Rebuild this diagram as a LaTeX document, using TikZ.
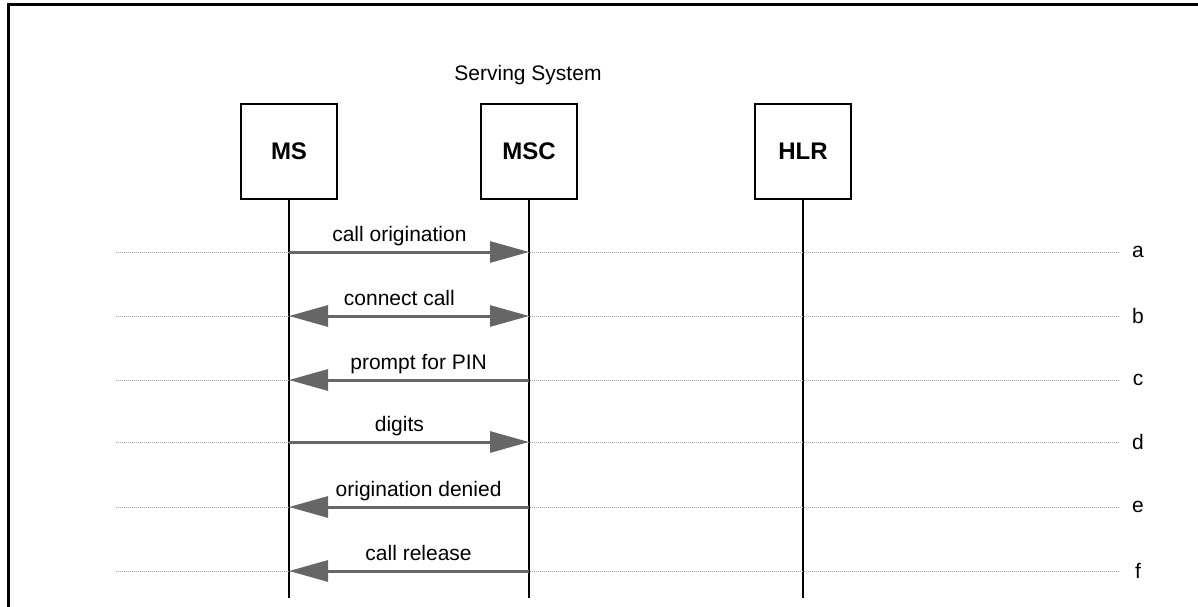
\documentclass[tikz,border=0pt]{standalone}
\usepackage{fontspec}
\setmainfont{Liberation Sans}
\usetikzlibrary{positioning}
\usetikzlibrary{arrows.meta}

\begin{document}
\begin{tikzpicture}[
    x=1pt, y=-1pt,
    every node/.style={font=\fontsize{21}{25}\selectfont},
    entity/.style={draw, line width=2pt, minimum width=96pt, minimum height=95pt,
      font=\fontsize{24}{28}\selectfont\bfseries},
    lifeline/.style={line width=2.6pt},
    gridline/.style={densely dotted, line width=1pt, gray!75},
    msg/.style={line width=3pt, color=black!60, -{Triangle[length=39pt, width=21pt]}},
    msgboth/.style={msg, {Triangle[length=39pt, width=21pt]}-{Triangle[length=39pt, width=21pt]}},
    msglabel/.style={pos=0.46, anchor=base, yshift=11pt, text=black}
  ]
  \useasboundingbox (0,0) rectangle (1198,607);
  \draw[line width=3pt] (1198,4.5) -- (8.5,4.5) -- (8.5,607);

  \node (SS) [anchor=base] at (528,81) {Serving System};
  \node[entity] (MS) at (289,151.5) {MS};
  \node[entity] (MSC) at (529,151.5) {MSC};
  \node[entity] (HLR) at (803,151.5) {HLR};

  \coordinate (bottom) at (0,598);
  \draw[lifeline] (MS.south) -- (MS.south |- bottom);
  \draw[lifeline] (MSC.south) -- (MSC.south |- bottom);
  \draw[lifeline] (HLR.south) -- (HLR.south |- bottom);

  \foreach \name/\y in {a/252,b/316,c/380,d/442,e/507,f/571} {
    \coordinate (row-\name) at (116,\y);
    \node (lbl-\name) at (1138,\y) {\name};
    \draw[gridline] (row-\name) -- ++(1004,0);
  }

  \draw[msg] (MS.south |- row-a) -- (MSC.south |- row-a) node[msglabel] {call origination};
  \draw[msgboth] (MS.south |- row-b) -- (MSC.south |- row-b) node[msglabel] {connect call};
  \draw[msg] (MSC.south |- row-c) -- (MS.south |- row-c) node[msglabel] {prompt for PIN};
  \draw[msg] (MS.south |- row-d) -- (MSC.south |- row-d) node[msglabel] {digits};
  \draw[msg] (MSC.south |- row-e) -- (MS.south |- row-e) node[msglabel] {origination denied};
  \draw[msg] (MSC.south |- row-f) -- (MS.south |- row-f) node[msglabel] {call release};
\end{tikzpicture}
\end{document}
